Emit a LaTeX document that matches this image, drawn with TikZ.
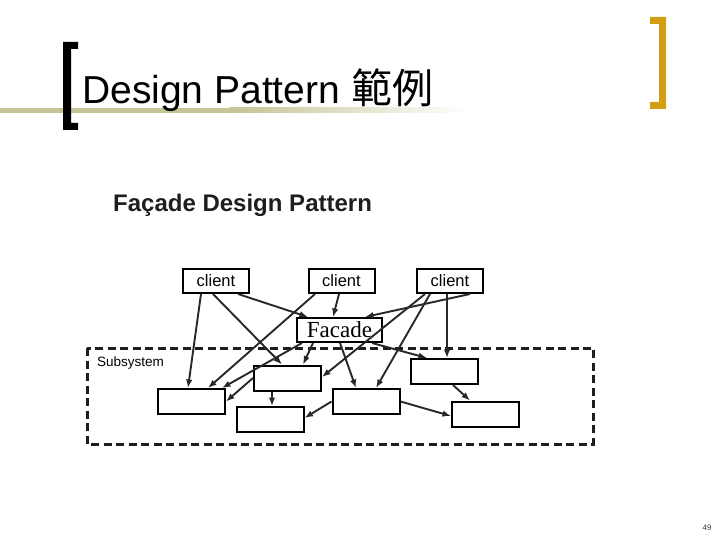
\documentclass[tikz,border=0pt]{standalone}
\usepackage{fontspec}
\setmainfont{Liberation Sans}
\newfontfamily\cjkfont{Noto Sans CJK TC}
\newfontfamily\seriffont{Liberation Serif}
\usetikzlibrary{arrows.meta,calc}
\definecolor{bandolive}{RGB}{196,196,150}
\definecolor{goldbr}{RGB}{210,158,20}
\definecolor{linegray}{RGB}{40,40,40}
\tikzset{
  box/.style={draw=black,line width=2bp,rectangle,inner sep=0pt,fill=white},
  clientbox/.style={box,minimum width=66bp,minimum height=24bp,font=\fontsize{16.5bp}{18bp}\selectfont},
  facadebox/.style={box,minimum width=85bp,minimum height=24bp,font=\seriffont\fontsize{23bp}{24bp}\selectfont},
  subbox/.style={box,minimum width=67bp,minimum height=25bp},
  conn/.style={draw=linegray,line width=1.9bp,-{Latex[length=8.5bp,width=6.5bp]}},
}
\begin{document}
\begin{tikzpicture}[x=1bp,y=-1bp]
\useasboundingbox (0,0) rectangle (720,540);
% header band
\fill[bandolive] (0,108) rectangle (230,113);
\shade[left color=bandolive,right color=white] (229.5,108) rectangle (470,113);
% brackets
\fill[black] (63,42) -- (78,42) -- (78,49) -- (71,49) -- (71,123) -- (78,123) -- (78,130) -- (63,130) -- cycle;
\fill[goldbr] (650,17) -- (666,17) -- (666,109) -- (650,109) -- (650,102) -- (659,102) -- (659,24) -- (650,24) -- cycle;
% title
\node[anchor=base west,inner sep=0pt,font=\fontsize{39bp}{42bp}\selectfont] (title) at (82,104) {Design Pattern {\cjkfont\fontsize{41bp}{42bp}\selectfont 範例}};
\node[anchor=base west,inner sep=0pt,font=\bfseries\fontsize{24bp}{26bp}\selectfont,text={rgb,255:red,30;green,30;blue,30}] (sub) at (113,212) {Façade Design Pattern};
% subsystem
\draw[line width=3bp,draw={rgb,255:red,30;green,30;blue,30},dash pattern=on 8bp off 4.5bp] (87,348) rectangle (593,444);
\node[anchor=base west,inner sep=0pt,font=\fontsize{13.5bp}{15bp}\selectfont] (subsys) at (97,366) {Subsystem};
% nodes
\node[subbox] (A) at (191.5,401.5) {};
\node[subbox] (B) at (287.5,378) {};
\node[subbox] (C) at (270,419.5) {};
\node[subbox] (D) at (366,401.5) {};
\node[subbox] (E) at (444,371.5) {};
\node[subbox] (F) at (485.5,414) {};
\node[facadebox] (Fa) at (339.5,330) {Facade};
\node[clientbox] (c1) at (216,281) {client};
\node[clientbox] (c2) at (341.5,281) {client};
\node[clientbox] (c3) at (450,281) {client};
% connectors
\draw[conn] ([xshift=-15bp]c1.south) -- ([xshift=-3.5bp]A.north);
\draw[conn] ([xshift=-3bp]c1.south) -- ([xshift=-5.5bp]B.north);
\draw[conn] ([xshift=22bp]c1.south) -- ([xshift=-31.5bp]Fa.north);
\draw[conn] ([xshift=-26.5bp]c2.south) -- ([xshift=16.5bp]A.north);
\draw[conn] ([xshift=-2.5bp]c2.south) -- ([xshift=-6.5bp]Fa.north);
\draw[conn] ([xshift=-25bp]c3.south) -- ([yshift=1bp]B.east);
\draw[conn] ([xshift=-20bp]c3.south) -- ([xshift=10bp]D.north);
\draw[conn] ([xshift=20bp]c3.south) -- ([xshift=25.5bp]Fa.north);
\draw[conn] ([xshift=-3bp]c3.south) -- ([xshift=3bp]E.north);
\draw[conn] ([xshift=-37.5bp]Fa.south) -- ([xshift=30.5bp]A.north);
\draw[conn] ([xshift=-26.5bp]Fa.south) -- ([xshift=15.5bp]B.north);
\draw[conn] ([xshift=0.5bp]Fa.south) -- ([xshift=-10bp]D.north);
\draw[conn] ([xshift=32.5bp]Fa.south) -- ([xshift=-17bp]E.north);
\draw[conn] (B.west) -- (A.east);
\draw[conn] ([xshift=-15.5bp]B.south) -- ([xshift=2bp]C.north);
\draw[conn] (D.west) -- ([yshift=1.5bp]C.east);
\draw[conn] (D.east) -- ([yshift=-2bp]F.west);
\draw[conn] ([xshift=9bp]E.south) -- ([xshift=-15.5bp]F.north);
% page number
\node[inner sep=0pt,font=\fontsize{8bp}{9bp}\selectfont,text={rgb,255:red,60;green,60;blue,60}] (pg) at (707,528) {49};
\end{tikzpicture}
\end{document}
